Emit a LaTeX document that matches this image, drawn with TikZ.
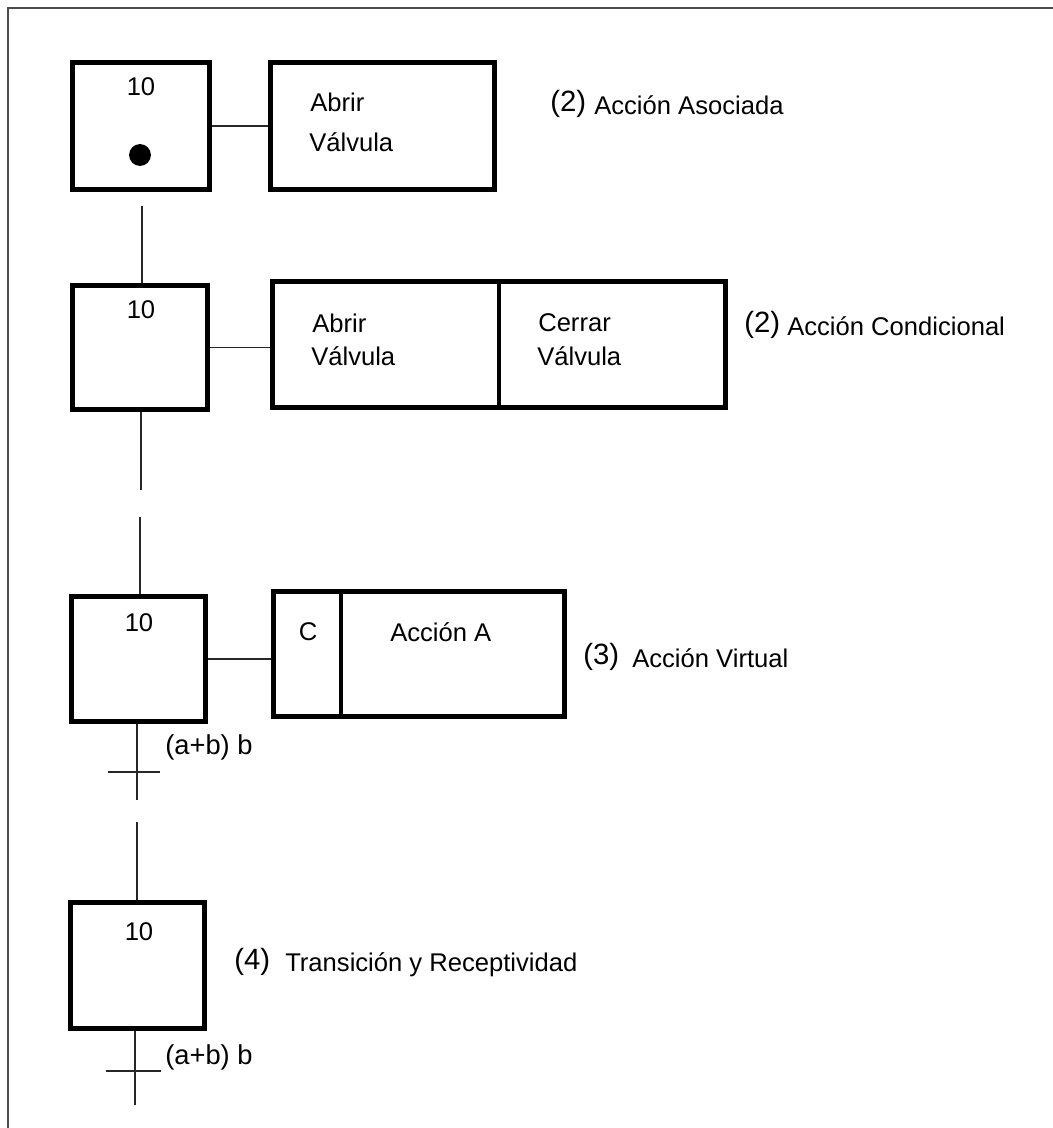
\documentclass[tikz,border=0pt]{standalone}
\usepackage{fontspec}
\setmainfont{Liberation Sans}
\usetikzlibrary{fit}
\begin{document}
\begin{tikzpicture}[x=0.75pt,y=-0.75pt,
  box/.style={draw, line width=3.7pt, inner sep=0pt},
  link/.style={line width=1.4pt, black!85},
  txt/.style={font=\fontsize{19.2}{22}\selectfont, inner sep=0pt},
  cond/.style={font=\fontsize{20.5}{24}\selectfont, inner sep=0pt},
  big/.style={font=\fontsize{22}{26}\selectfont, inner sep=0pt},
]
\useasboundingbox (0,0) rectangle (1053,1128);
% frame
\draw[line width=2pt, black!70] (8,1128) -- (8,8) -- (1053,8);

% steps
\node[box, fit={(72.5,62.5) (209.5,189.5)}] (s1) {};
\node[box, fit={(72.5,285.5) (207.5,409.5)}] (s2) {};
\node[box, fit={(71.5,596.5) (205.5,721.5)}] (s3) {};
\node[box, fit={(70.5,902.5) (204.5,1028.5)}] (s4) {};

% step numbers
\node[txt] (n1) at (141,87) {10};
\node[txt] (n2) at (141,310) {10};
\node[txt] (n3) at (139,623) {10};
\node[txt] (n4) at (139,932) {10};
\fill (140,155) circle[radius=8.2pt];

% actions
\node[box, fit={(270.5,62.5) (494.5,189.5)}] (a1) {};
\node[box, fit={(272.5,281.5) (499,407.5)}] (a2a) {};
\node[box, fit={(499,281.5) (725.5,407.5)}] (a2b) {};
\node[box, fit={(273.5,591.5) (341,716.5)}] (a3c) {};
\node[box, fit={(341,591.5) (564.5,716.5)}] (a3) {};

\node[txt, anchor=west] (t1a) at (310,102) {Abrir};
\node[txt, anchor=west] (t1b) at (309,142) {Válvula};
\node[txt, anchor=west] (t2a) at (312,323) {Abrir};
\node[txt, anchor=west] (t2b) at (311,356) {Válvula};
\node[txt, anchor=west] (t2c) at (538,323) {Cerrar};
\node[txt, anchor=west] (t2d) at (537,356) {Válvula};
\node[txt] (t3c) at (308,632) {C};
\node[txt, anchor=west] (t3a) at (390,632) {Acción A};

% step-to-action links
\draw[link] (s1.east) -- (s1.east -| a1.west);
\draw[link] (s2.east) -- (s2.east -| a2a.west);
\draw[link] (s3.east) -- (s3.east -| a3c.west);

% vertical links
\coordinate (v1) at (142,206);
\draw[link] (v1) -- (v1 |- s2.north);
\coordinate (g1) at (141,490);
\coordinate (g2) at (140,517);
\draw[link] (g1 |- s2.south) -- (g1);
\draw[link] (g2) -- (g2 |- s3.north);

% transition below step 3
\coordinate (e3) at (137,800);
\coordinate (g3) at (137,822);
\draw[link] (e3 |- s3.south) -- (e3);
\coordinate (c3l) at (108,772);
\coordinate (c3r) at (160,772);
\draw[link] (c3l) -- (c3r);
\node[cond, anchor=west] (r3) at (165,747) {(a+b) b};
\draw[link] (g3) -- (g3 |- s4.north);

% transition below step 4
\coordinate (e4) at (135,1105);
\draw[link] (e4 |- s4.south) -- (e4);
\coordinate (c4l) at (106,1071);
\coordinate (c4r) at (161,1071);
\draw[link] (c4l) -- (c4r);
\node[cond, anchor=west] (r4) at (165,1057) {(a+b) b};

% captions
\node[big, anchor=west] (k1n) at (550,104) {(2)};
\node[txt, anchor=west] (k1) at (594,105) {Acción Asociada};
\node[big, anchor=west] (k2n) at (744,325) {(2)};
\node[txt, anchor=west] (k2) at (787,326) {Acción Condicional};
\node[big, anchor=west] (k3n) at (583,657) {(3)};
\node[txt, anchor=west] (k3) at (632,658) {Acción Virtual};
\node[big, anchor=west] (k4n) at (234,962) {(4)};
\node[txt, anchor=west] (k4) at (285,965) {Transición y Receptividad};
\end{tikzpicture}
\end{document}
